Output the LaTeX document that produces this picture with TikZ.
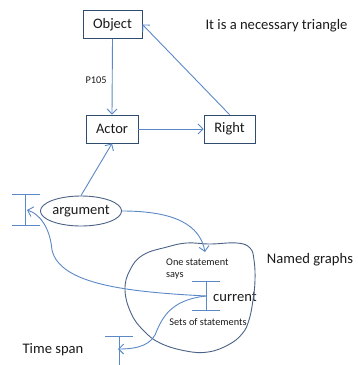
\documentclass[tikz,border=0pt]{standalone}
\usepackage{fontspec}
\setmainfont{Carlito}
\usetikzlibrary{arrows.meta,shapes.geometric}
\definecolor{boxc}{HTML}{2F4B6E}
\definecolor{ellc}{HTML}{4A6285}
\definecolor{linec}{HTML}{5B88C6}
\definecolor{txtc}{HTML}{1A1A1A}
\tikzset{
  box/.style={draw=boxc, line width=0.9pt, minimum height=28pt, inner sep=2pt, text=txtc, font=\fontsize{14.5}{16}\selectfont},
  conn/.style={draw=linec, line width=0.9pt, -{Straight Barb[length=5pt,width=10pt]}},
  plainline/.style={draw=linec, line width=0.9pt},
  lbl/.style={font=\fontsize{14.6}{16}\selectfont, inner sep=0pt, text=txtc},
  small/.style={font=\fontsize{10.3}{12}\selectfont, inner sep=0pt, text=txtc}
}
\begin{document}
\begin{tikzpicture}[x=1pt,y=-1pt]
\useasboundingbox (0,0) rectangle (358,365);
\node[box, minimum width=59pt] (obj) at (112.5,24.5) {Object};
\node[box, minimum width=52pt] (actor) at (112,129) {Actor};
\node[box, minimum width=51pt] (right) at (229.5,129) {Right};
\node[lbl] (tri) at (276.5,26) {It is a necessary triangle};
\node[small] (p105) at (96,80) {P105};
\node[draw=ellc, line width=0.9pt, ellipse, minimum width=76pt, minimum height=30pt, inner sep=0pt, text=txtc, font=\fontsize{14.5}{16}\selectfont] (arg) at (81,211) {argument};
\node[lbl] (named) at (310,260) {Named graphs};
\node[lbl, anchor=west] (curr) at (213,297) {current};
\node[small, anchor=north west, align=left] (one) at (166,259) {One statement\\says};
\node[small] (sets) at (208,322) {Sets of statements};
\node[lbl] (tspan) at (53,350) {Time span};
% blob
\draw[ellc, line width=0.9pt] plot[smooth cycle, tension=0.7] coordinates {
 (125,290) (130,270) (143,255) (167,247) (187,243) (210,244) (237,243) (250,248)
 (254,260) (255,280) (253,300) (249,320) (242,334) (228,345) (208,352) (186,351)
 (160,343) (143,330) (131,313)};
% coordinates
\coordinate (c1) at (205,252);
\coordinate (cb) at (206,296);
\coordinate (cbt) at (206,281);
\coordinate (cbb) at (206,310);
\coordinate (lb) at (27,210);
\coordinate (lbt) at (25,194);
\coordinate (lbb) at (25,225);
\coordinate (tb) at (118,349);
\coordinate (tbt) at (119,336);
\coordinate (tbb) at (119,365);
% brackets
\draw[plainline] (cbt) -- (cbb);
\draw[plainline] ([xshift=-14pt]cbt) -- ([xshift=14pt]cbt);
\draw[plainline] ([xshift=-14pt]cbb) -- ([xshift=14pt]cbb);
\draw[plainline] (lbt) -- (lbb);
\draw[plainline] ([xshift=-13pt]lbt) -- ([xshift=15pt]lbt);
\draw[plainline] ([xshift=-13pt]lbb) -- ([xshift=15pt]lbb);
\draw[plainline] (tbt) -- (tbb);
\draw[plainline] ([xshift=-14pt]tbt) -- ([xshift=14pt]tbt);
% connectors
\draw[conn] (obj.south) -- (actor.north);
\draw[conn] (actor) -- (right);
\draw[conn] (right.north) -- (obj.east);
\draw[conn] (arg.north) -- (actor.south);
\draw[conn] (arg.east) .. controls (175,211) and (200,225) .. (c1);
\draw[conn] (cb) .. controls (130,292) and (60,285) .. (52,250) .. controls (50,228) and (40,214) .. (lb);
\draw[conn] (cb) .. controls (170,300) and (162,318) .. (155,335) .. controls (148,348) and (130,349) .. (tb);
\end{tikzpicture}
\end{document}
